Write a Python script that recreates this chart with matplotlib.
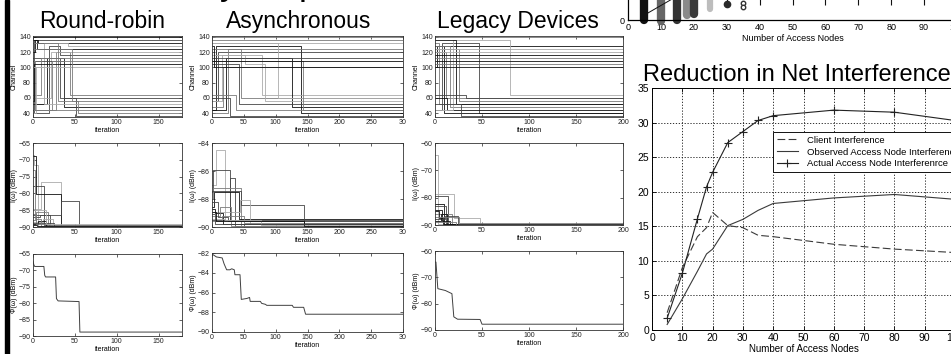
import matplotlib
matplotlib.use('Agg')
import matplotlib.pyplot as plt
from matplotlib.patches import Rectangle

plt.rcParams['font.family'] = ['Liberation Sans', 'DejaVu Sans']

# ---------------- data ----------------
K, D, M, L = '#111111', '#454545', '#7a7a7a', '#ababab'

col_titles = ['Round-robin', 'Asynchronous', 'Legacy Devices']

# Round-robin channel trajectories (iteration of change, channel after change)
rr_ch_iters = [[0], [0, 1], [0, 2, 6], [0, 13, 42], [0, 5], [0, 28, 44], [0, 17, 37],
               [0, 19, 32], [0, 21], [0, 30, 54], [0, 32, 51], [0, 37], [0, 2], [0, 9],
               [0, 1], [0, 4], [0, 23], [0, 47], [0, 13]]
rr_ch_vals = [[140], [40, 136], [120, 136, 132], [52, 132, 128], [136, 124], [44, 120, 64],
              [52, 112, 48], [40, 128, 116], [60, 120], [132, 56, 40], [112, 60, 36],
              [108, 60], [108, 44], [64, 112], [56, 104], [40, 100], [44, 108], [124, 56],
              [100, 52]]
rr_ch_shades = [K, D, K, L, K, M, K, D, L, M, D, D, M, M, K, L, M, M, L]

# Asynchronous channel trajectories
as_ch_iters = [[0], [0, 6, 140], [0, 9], [0, 15, 78], [0, 18], [0, 22, 125], [0, 25],
               [0, 29], [0, 37], [0, 42], [0, 45], [0, 52, 83], [0, 103], [0, 143],
               [0], [0], [0], [0], [0, 3]]
as_ch_vals = [[140], [44, 128, 40], [56, 120], [56, 116, 64], [48, 100], [44, 112, 48],
              [40, 124], [60, 36], [64, 44], [104, 52], [124, 60], [116, 104, 56],
              [132, 60], [108, 44], [136], [132], [112], [108], [128, 100]]
as_ch_shades = [M, K, D, L, M, K, M, D, M, D, M, L, L, M, M, L, D, K, K]

# Legacy devices channel trajectories
lg_ch_iters = [[0, 2], [0, 4], [0, 7, 47], [0, 10], [0, 12], [0, 13], [0, 16], [0, 19, 80],
               [0, 22], [0, 25], [0, 28], [0, 33], [0], [0], [0], [0], [0], [0], [0], [0]]
lg_ch_vals = [[100, 128], [132, 52], [44, 132, 40], [128, 40], [120, 60], [60, 44],
              [128, 48], [44, 136, 64], [136, 52], [124, 56], [52, 36], [64, 60],
              [140], [116], [112], [108], [104], [100], [120], [124]]
lg_ch_shades = [K, M, D, K, M, K, M, L, K, M, D, D, M, K, M, K, M, K, L, L]

# Per-node interference I(w) (dBm)
rr_I_iters = [[0, 1, 6], [0, 10, 33], [0, 13], [0, 4, 33], [0, 33, 55], [0, 4, 18],
              [0, 8, 20], [0, 12, 24], [0, 6, 15], [0, 3, 20], [0, 25], [0, 2, 9], [0, 16],
              [0, 5]]
rr_I_vals = [[-68.5, -71.5, -89.7], [-84.5, -76.6, -89.9], [-77.8, -89.5], [-69.0, -80.1, -89.8],
             [-86.5, -82.3, -89.9], [-88.0, -85.4, -89.6], [-87.0, -86.5, -89.7],
             [-88.5, -87.6, -89.8], [-89.0, -88.2, -89.9], [-86.2, -89.0, -89.5],
             [-88.8, -90.0], [-73.0, -87.5, -89.6], [-85.0, -89.2], [-89.3, -89.75]]
rr_I_shades = [L, L, D, K, D, M, D, L, K, M, D, M, L, K]

as_I_iters = [[0, 7, 21], [0, 2, 28], [0, 29, 36], [0, 2, 45], [0, 3, 43], [0, 45, 144],
              [0, 44, 60], [0, 5, 18], [0, 12, 30], [0, 9, 25], [0, 15, 50], [0, 20, 77],
              [0, 6, 145], [0, 4]]
as_I_vals = [[-87.0, -84.5, -89.6], [-87.5, -85.9, -89.5], [-89.5, -86.5, -89.9],
             [-88.0, -87.2, -89.9], [-88.6, -87.5, -89.4], [-87.4, -88.4, -89.7],
             [-88.9, -88.1, -89.8], [-88.7, -89.0, -89.8], [-89.2, -88.6, -89.9],
             [-88.2, -89.3, -89.6], [-89.6, -89.2, -89.7], [-89.4, -89.5, -89.85],
             [-88.9, -89.55, -89.9], [-89.1, -89.75]]
as_I_shades = [L, D, D, M, K, D, L, K, M, D, M, L, K, D]

lg_I_iters = [[0, 3], [0, 20, 48], [0, 14], [0, 10], [0, 12], [0, 18], [0, 4, 9],
              [0, 7, 16], [0, 11, 24], [0, 6, 13], [0, 22], [0, 26]]
lg_I_vals = [[-64.4, -89.6], [-78.7, -87.3, -89.8], [-79.5, -89.8], [-82.4, -89.5],
             [-83.2, -89.7], [-86.0, -89.9], [-85.0, -87.3, -89.6], [-84.6, -88.4, -89.7],
             [-87.7, -86.6, -89.8], [-88.6, -85.8, -89.9], [-88.9, -90.0], [-87.0, -89.4]]
lg_I_shades = [L, L, D, K, D, M, K, K, D, K, M, M]

# Network interference Phi(w) (dBm)
rr_phi_x = [0, 1, 2, 13, 14, 15, 27, 28, 30, 55, 56, 178]
rr_phi_y = [-67.2, -68.3, -68.8, -68.8, -71.5, -72.0, -72.0, -78.6, -79.3, -79.5, -88.8, -88.8]
as_phi_x = [0, 7, 16, 19, 23, 28, 31, 35, 36, 44, 46, 55, 59, 60, 76, 78, 84, 86, 126, 128,
            144, 147, 300]
as_phi_y = [-82.1, -82.4, -82.5, -83.1, -83.7, -83.7, -83.6, -83.7, -84.2, -84.2, -86.7,
            -86.6, -86.5, -86.9, -86.9, -87.1, -87.2, -87.3, -87.3, -87.5, -87.5, -88.2, -88.2]
lg_phi_x = [0, 1, 3, 11, 18, 20, 24, 48, 50, 200]
lg_phi_y = [-64.2, -64.2, -74.3, -75.0, -76.2, -85.0, -85.9, -86.0, -87.8, -87.8]

xlims = [(0, 178), (0, 300), (0, 200)]
xticks = [[0, 50, 100, 150], [0, 50, 100, 150, 200, 250, 300], [0, 50, 100, 150, 200]]
xticklabels = [['0', '50', '100', '150'], ['0', '50', '100', '150', '200', '250', '30'],
               ['0', '50', '100', '150', '200']]
ch_ticks = [40, 60, 80, 100, 120, 140]
I_ylims = [(-90, -65), (-90, -84), (-90, -60)]
I_ticks = [[-90, -85, -80, -75, -70, -65], [-90, -88, -86, -84], [-90, -80, -70, -60]]
phi_ylims = [(-90, -65), (-90, -82), (-90, -60)]
phi_ticks = [[-90, -85, -80, -75, -70, -65], [-90, -88, -86, -84, -82], [-90, -80, -70, -60]]

# Reduction in net interference
nodes = [5, 10, 15, 18, 20, 25, 30, 35, 40, 60, 80, 100]
client_int = [2.5, 9.0, 13.5, 14.8, 17.0, 15.1, 14.8, 13.7, 13.5, 12.4, 11.7, 11.2]
observed_int = [0.8, 4.5, 8.5, 11.0, 11.7, 15.1, 16.0, 17.3, 18.3, 19.1, 19.6, 18.9]
actual_int = [1.7, 8.2, 16.1, 20.7, 22.8, 27.1, 28.7, 30.3, 31.0, 31.8, 31.5, 30.3]
legend_labels = ['Client Interference', 'Observed Access Node Interference',
                 'Actual Access Node Interferenrce']

# Top-right (mostly cropped) scatter panel
tr_x = [5, 10, 15, 18, 20, 25]
tr_low = [0.0, -0.1, 0.05, 0.55, 0.65, 1.1]
tr_high = [28, 28, 27, 26, 26, 22]
tr_shades = ['#111111', '#666666', '#333333', '#8a8a8a', '#3a3a3a', '#bdbdbd']
tr_dot_x = [30]
tr_dot_y = [1.6]
tr_ring_x = [35, 35]
tr_ring_y = [1.75, 1.35]
tr_fit_x = [5, 15]
tr_fit_y = [0.5, 2.4]
tr_xticks = [0, 10, 20, 30, 40, 50, 60, 70, 80, 90, 100]

# ---------------- figure ----------------
W, H = 951, 354
fig = plt.figure(figsize=(W / 100, H / 100), dpi=100)
fig.patch.set_facecolor('white')


def add_ax(l, t, r, b):
    return fig.add_axes([l / W, 1 - b / H, (r - l) / W, (b - t) / H])


def style_small(ax):
    ax.tick_params(direction='in', length=2.5, width=0.5, labelsize=5, pad=1.5,
                   top=True, right=True, colors='#222222')
    for s in ax.spines.values():
        s.set_linewidth(0.6)
        s.set_color('#333333')


col_x = [(33, 182), (212, 403), (435, 623)]
row1 = (36, 117)
row2 = [(143, 227), (143, 227), (143, 225)]
row3 = [(254, 336), (253, 332), (251, 330)]

ch_data = [(rr_ch_iters, rr_ch_vals, rr_ch_shades), (as_ch_iters, as_ch_vals, as_ch_shades),
           (lg_ch_iters, lg_ch_vals, lg_ch_shades)]
I_data = [(rr_I_iters, rr_I_vals, rr_I_shades), (as_I_iters, as_I_vals, as_I_shades),
          (lg_I_iters, lg_I_vals, lg_I_shades)]
phi_data = [(rr_phi_x, rr_phi_y), (as_phi_x, as_phi_y), (lg_phi_x, lg_phi_y)]
title_x = [102, 299, 518]

for c in range(3):
    l, r = col_x[c]
    xmax = xlims[c][1]
    # channel
    ax = add_ax(l, row1[0], r, row1[1])
    its, vals, shs = ch_data[c]
    for it, v, sh in zip(its, vals, shs):
        ax.step(list(it) + [xmax], list(v) + [v[-1]], where='post', color=sh, lw=0.6)
    ax.set_xlim(*xlims[c])
    ax.set_ylim(35, 141)
    ax.set_yticks(ch_ticks)
    ax.set_xticks(xticks[c])
    ax.set_xticklabels(xticklabels[c])
    ax.set_ylabel('Channel', fontsize=5, labelpad=1)
    ax.set_xlabel('iteration', fontsize=5, labelpad=1)
    style_small(ax)
    # I(w)
    t, b = row2[c]
    ax = add_ax(l, t, r, b)
    its, vals, shs = I_data[c]
    for it, v, sh in zip(its, vals, shs):
        ax.step(list(it) + [xmax], list(v) + [v[-1]], where='post', color=sh, lw=0.6)
    ax.set_xlim(*xlims[c])
    ax.set_ylim(*I_ylims[c])
    ax.set_yticks(I_ticks[c])
    ax.set_xticks(xticks[c])
    ax.set_xticklabels(xticklabels[c])
    ax.set_ylabel('I(ω) (dBm)', fontsize=5, labelpad=1)
    ax.set_xlabel('iteration', fontsize=5, labelpad=1)
    style_small(ax)
    # Phi(w)
    t, b = row3[c]
    ax = add_ax(l, t, r, b)
    px, py = phi_data[c]
    ax.plot(px, py, color='#404040', lw=0.7)
    ax.set_xlim(*xlims[c])
    ax.set_ylim(*phi_ylims[c])
    ax.set_yticks(phi_ticks[c])
    ax.set_xticks(xticks[c])
    ax.set_xticklabels(xticklabels[c])
    ax.set_ylabel('Φ(ω) (dBm)', fontsize=5, labelpad=1)
    ax.set_xlabel('iteration', fontsize=5, labelpad=0.5)
    style_small(ax)
    fig.text(title_x[c] / W, 1 - 28 / H, col_titles[c], fontsize=16.5, ha='center',
             va='baseline')

# Top-right cropped scatter axes
ax = fig.add_axes([628 / W, 1 - 20 / H, (957 - 628) / W, 300 / H])
ax.set_xlim(0, 100)
ax.set_ylim(0, 30)
ax.vlines(tr_xticks[1:10], 1.5, 30, color='#111111', lw=0.8)
for x, lo, hi, sh in zip(tr_x, tr_low, tr_high, tr_shades):
    ax.plot([x, x], [lo, hi], color=sh, lw=6.0 if x != 25 else 4.5,
            solid_capstyle='round', clip_on=False)
ax.plot(tr_dot_x, tr_dot_y, 'o', color='#2a2a2a', ms=4.5, clip_on=False)
ax.plot(tr_ring_x, tr_ring_y, 'o', mfc='white', mec='#333333', ms=3.2, mew=1.0,
        clip_on=False)
ax.plot(tr_fit_x, tr_fit_y, color='#111111', lw=0.7)
ax.set_xticks(tr_xticks)
ax.set_yticks([0, 10, 20, 30])
ax.tick_params(direction='in', length=0, labelsize=6.5, pad=2.5)
ax.set_xlabel('Number of Access Nodes', fontsize=6.5, labelpad=1)
for s in ['top', 'right']:
    ax.spines[s].set_visible(False)
ax.spines['bottom'].set_linewidth(0.9)
ax.spines['left'].set_linewidth(0.9)

# Reduction in net interference
ax = fig.add_axes([652 / W, 1 - 330 / H, (955 - 652) / W, (330 - 88) / H])
l1, = ax.plot(nodes, client_int, color='#3a3a3a', lw=0.8, dashes=(7, 3))
l2, = ax.plot(nodes, observed_int, color='#3a3a3a', lw=0.8)
l3, = ax.plot(nodes, actual_int, color='#222222', lw=0.8, marker='+', ms=6, mew=0.8)
ax.set_xlim(0, 100)
ax.set_ylim(0, 35)
ax.set_xticks(range(0, 101, 10))
ax.set_yticks(range(0, 36, 5))
ax.grid(True, color='#111111', linestyle=(0, (1.5, 2)), lw=0.6)
ax.tick_params(direction='in', length=3, width=0.6, labelsize=7.5, pad=2, top=True,
               right=True)
for s in ax.spines.values():
    s.set_linewidth(0.7)
ax.set_xlabel('Number of Access Nodes', fontsize=7, labelpad=1)
leg = ax.legend([l1, l2, l3], legend_labels, loc='upper left',
                bbox_to_anchor=(773 / W, 1 - 132 / H), bbox_transform=fig.transFigure,
                fontsize=6.8, frameon=True, fancybox=False, borderpad=0.4,
                labelspacing=0.3, handlelength=2.2, handletextpad=1.0, borderaxespad=0)
leg.get_frame().set_edgecolor('#111111')
leg.get_frame().set_linewidth(0.7)
leg.get_frame().set_alpha(1)
fig.text(643 / W, 1 - 81 / H, 'Reduction in Net Interference', fontsize=17,
         ha='left', va='baseline')

# cropped slide title descenders and left border
fig.text(229 / W, 1 + 6 / H, 'y', fontsize=26, ha='center', va='baseline')
fig.text(299 / W, 1 + 6 / H, 'p', fontsize=26, ha='left', va='baseline')
fig.add_artist(Rectangle((5 / W, 0), 4 / W, 1, transform=fig.transFigure,
                         color='black', zorder=10))

fig.savefig('out.png', dpi=100, facecolor='white')
